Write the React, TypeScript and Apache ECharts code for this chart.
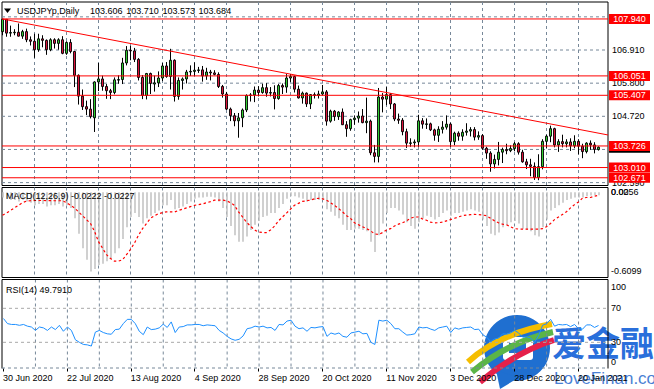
import React, { useEffect, useRef } from 'react';
import * as echarts from 'echarts';

const FF = "'Liberation Sans', Arial, sans-serif";

// ---------- data ----------
const dateLabels = ['30 Jun 2020', '22 Jul 2020', '13 Aug 2020', '4 Sep 2020', '28 Sep 2020', '20 Oct 2020', '11 Nov 2020', '3 Dec 2020', '28 Dec 2020', '20 Jan 2021'];
const labelBars = [0, 16, 32, 48, 64, 80, 96, 112, 128, 144];
const gridBars = [8, 16, 24, 32, 40, 48, 56, 64, 72, 80, 88, 96, 104, 112, 120, 128, 136, 144];

const opens = [107.52, 107.93, 107.47, 107.49, 107.50, 107.37, 107.52, 107.25, 107.20, 106.92, 107.28, 107.23, 106.92, 107.25, 107.13, 107.25, 106.80, 107.16, 106.86, 106.07,
  105.38, 105.03, 104.95, 104.66, 105.85, 105.95, 105.70, 105.56, 105.50, 105.92, 105.93, 106.48, 106.90, 106.88, 106.60, 106.00, 105.40, 106.13, 105.78, 105.82,
  105.98, 106.38, 106.03, 106.57, 105.37, 105.90, 105.95, 106.18, 106.20, 106.24, 106.25, 106.05, 106.18, 106.15, 106.10, 105.70, 105.45, 104.95, 104.73, 104.56,
  104.66, 104.92, 105.40, 105.42, 105.58, 105.50, 105.66, 105.48, 105.50, 105.30, 105.73, 105.68, 105.98, 106.03, 105.61, 105.32, 105.48, 105.12, 105.43, 105.40,
  105.45, 105.52, 104.55, 104.88, 104.70, 104.85, 104.43, 104.30, 104.60, 104.65, 104.72, 104.50, 104.55, 103.50, 103.38, 105.35, 105.28, 105.43, 105.12, 104.62,
  104.58, 104.20, 103.82, 103.83, 103.86, 104.56, 104.45, 104.46, 104.26, 104.08, 104.28, 104.35, 104.45, 103.87, 104.15, 104.05, 104.18, 104.22, 104.27, 104.02,
  104.07, 103.65, 103.49, 103.13, 103.28, 103.52, 103.61, 103.57, 103.64, 103.80, 103.52, 103.20, 103.10, 103.05, 102.68, 103.04, 103.88, 104.05, 104.30, 103.76,
  103.87, 103.80, 103.86, 103.73, 103.88, 103.72, 103.54, 103.82, 103.76, 103.606];
const highs = [107.94, 107.93, 107.72, 107.60, 107.79, 107.58, 107.62, 107.36, 107.45, 107.45, 107.40, 107.26, 107.30, 107.30, 107.30, 107.37, 107.20, 107.27, 106.88, 106.10,
  105.60, 105.23, 105.28, 105.87, 106.48, 106.06, 105.78, 105.62, 106.00, 106.07, 106.65, 107.04, 107.05, 106.98, 106.64, 106.08, 106.15, 106.16, 106.06, 106.20,
  106.48, 106.51, 106.95, 106.60, 106.00, 106.00, 106.25, 106.40, 106.50, 106.35, 106.38, 106.32, 106.25, 106.24, 106.17, 105.75, 105.52, 105.00, 104.82, 104.82,
  104.97, 105.44, 105.48, 105.70, 105.71, 105.79, 105.81, 105.68, 105.74, 105.78, 105.80, 106.11, 106.11, 106.06, 105.73, 105.53, 105.50, 105.45, 105.50, 105.56,
  105.75, 105.58, 104.93, 104.92, 104.88, 104.97, 104.55, 104.63, 104.74, 104.87, 104.95, 105.33, 104.60, 103.76, 105.65, 105.48, 105.68, 105.48, 105.15, 104.80,
  104.65, 104.30, 103.98, 103.94, 104.76, 104.65, 104.64, 104.50, 104.30, 104.38, 104.55, 104.74, 104.50, 104.20, 104.21, 104.28, 104.48, 104.35, 104.35, 104.21,
  104.12, 103.70, 103.55, 103.44, 103.86, 103.67, 103.80, 103.75, 103.86, 103.85, 103.60, 103.30, 103.30, 103.18, 103.45, 103.95, 104.10, 104.40, 104.33, 103.95,
  104.10, 103.95, 103.98, 104.08, 103.95, 103.80, 103.85, 103.91, 103.85, 103.710];
const lows = [107.40, 107.35, 107.35, 107.40, 107.36, 107.28, 107.17, 107.06, 106.65, 106.85, 107.00, 106.75, 106.87, 106.96, 106.92, 106.77, 106.75, 106.80, 105.68, 105.10,
  104.92, 104.75, 104.64, 104.19, 105.55, 105.56, 105.29, 105.28, 105.44, 105.79, 105.78, 106.40, 106.57, 106.51, 105.90, 105.28, 105.27, 105.45, 105.53, 105.68,
  105.88, 105.99, 105.60, 105.20, 105.26, 105.60, 105.80, 106.05, 106.05, 106.15, 105.86, 105.92, 105.90, 106.07, 105.65, 105.33, 104.92, 104.55, 104.38, 104.00,
  104.35, 104.85, 105.20, 105.18, 105.37, 105.46, 105.36, 105.37, 104.94, 105.26, 105.45, 105.49, 105.85, 105.50, 105.30, 105.13, 105.02, 104.95, 105.30, 105.30,
  105.40, 104.40, 104.50, 104.56, 104.59, 104.42, 104.03, 104.23, 104.43, 104.50, 104.48, 104.15, 103.42, 103.18, 103.18, 104.84, 105.08, 104.95, 104.55, 104.46,
  104.08, 103.66, 103.70, 103.68, 103.70, 104.30, 104.29, 104.22, 103.90, 103.86, 104.14, 104.27, 103.69, 103.75, 103.90, 103.90, 104.07, 104.04, 103.91, 103.93,
  103.60, 103.30, 102.87, 102.98, 103.08, 103.16, 103.45, 103.52, 103.55, 103.44, 103.17, 102.96, 102.72, 102.60, 102.59, 102.95, 103.66, 103.85, 103.68, 103.53,
  103.68, 103.68, 103.56, 103.65, 103.45, 103.32, 103.48, 103.60, 103.48, 103.573];
const closes = [107.93, 107.47, 107.49, 107.50, 107.37, 107.52, 107.25, 107.20, 106.92, 107.28, 107.23, 106.92, 107.25, 107.13, 107.25, 106.80, 107.16, 106.86, 106.07, 105.38,
  105.03, 104.95, 104.70, 105.85, 105.95, 105.70, 105.56, 105.50, 105.92, 105.93, 106.48, 106.90, 106.88, 106.60, 106.00, 105.40, 106.13, 105.80, 105.82, 105.98,
  106.38, 106.03, 106.57, 105.37, 105.90, 105.95, 106.18, 106.20, 106.24, 106.25, 106.05, 106.18, 106.15, 106.10, 105.70, 105.45, 104.95, 104.73, 104.56, 104.66,
  104.92, 105.40, 105.42, 105.58, 105.50, 105.66, 105.48, 105.50, 105.30, 105.73, 105.68, 105.98, 106.03, 105.61, 105.32, 105.48, 105.12, 105.43, 105.40, 105.45,
  105.52, 104.55, 104.88, 104.70, 104.85, 104.43, 104.30, 104.60, 104.65, 104.72, 104.50, 104.55, 103.50, 103.38, 105.35, 105.28, 105.43, 105.12, 104.62, 104.58,
  104.20, 103.82, 103.83, 103.86, 104.56, 104.45, 104.46, 104.26, 104.08, 104.28, 104.35, 104.45, 103.87, 104.15, 104.05, 104.18, 104.22, 104.27, 104.02, 104.07,
  103.65, 103.49, 103.13, 103.28, 103.52, 103.61, 103.57, 103.64, 103.80, 103.52, 103.20, 103.10, 103.05, 102.68, 103.04, 103.88, 104.05, 104.30, 103.76, 103.87,
  103.80, 103.86, 103.73, 103.88, 103.72, 103.54, 103.82, 103.76, 103.61, 103.684];

const levels = [107.940, 106.051, 105.407, 103.726, 103.010, 102.671];
const priceTicks = [108.01, 106.91, 105.81, 104.71, 103.61, 102.51];
const priceTickLabels = ['', '106.910', '105.800', '104.720', '103.610', '102.590'];
const trendline = [[0, 107.94], [151.4, 104.09]];
const bidPrice = [103.684];
const lastBar = ['103.606', '103.710', '103.573', '103.684'];

const macdMain = [-0.04, -0.05, -0.06, -0.06, -0.07, -0.06, -0.07, -0.08, -0.10, -0.09, -0.09, -0.11, -0.10, -0.10, -0.09, -0.11, -0.10, -0.12, -0.20, -0.32,
  -0.43, -0.52, -0.61, -0.59, -0.56, -0.55, -0.53, -0.51, -0.47, -0.43, -0.36, -0.27, -0.19, -0.16, -0.19, -0.24, -0.20, -0.18, -0.16, -0.14,
  -0.10, -0.10, -0.06, -0.13, -0.12, -0.11, -0.09, -0.07, -0.05, -0.04, -0.04, -0.035, -0.035, -0.04, -0.07, -0.12, -0.19, -0.26, -0.33, -0.38,
  -0.38, -0.34, -0.29, -0.25, -0.22, -0.19, -0.18, -0.16, -0.16, -0.12, -0.09, -0.05, -0.03, -0.03, -0.04, -0.05, -0.07, -0.06, -0.06, -0.06,
  -0.06, -0.13, -0.15, -0.18, -0.20, -0.25, -0.29, -0.29, -0.28, -0.28, -0.29, -0.30, -0.38, -0.46, -0.33, -0.24, -0.16, -0.12, -0.12, -0.14,
  -0.17, -0.23, -0.26, -0.28, -0.23, -0.20, -0.18, -0.19, -0.21, -0.19, -0.16, -0.14, -0.18, -0.16, -0.16, -0.15, -0.14, -0.13, -0.14, -0.15,
  -0.21, -0.26, -0.32, -0.33, -0.31, -0.27, -0.25, -0.23, -0.22, -0.24, -0.28, -0.29, -0.30, -0.33, -0.34, -0.27, -0.21, -0.14, -0.12, -0.10,
  -0.08, -0.06, -0.05, -0.04, -0.04, -0.04, -0.03, -0.025, -0.02, -0.0222];
const macdSignal = [-0.176, -0.16, -0.14, -0.12, -0.10, -0.08, -0.068, -0.065, -0.063, -0.063, -0.063, -0.064, -0.064, -0.065, -0.065, -0.065, -0.08, -0.10, -0.12, -0.15,
  -0.18, -0.21, -0.24, -0.30, -0.38, -0.43, -0.48, -0.51, -0.53, -0.53, -0.52, -0.48, -0.44, -0.39, -0.33, -0.28, -0.24, -0.20, -0.18, -0.165,
  -0.157, -0.15, -0.15, -0.152, -0.14, -0.13, -0.12, -0.11, -0.10, -0.095, -0.09, -0.08, -0.072, -0.06, -0.06, -0.06, -0.065, -0.08, -0.10, -0.15,
  -0.19, -0.23, -0.26, -0.29, -0.305, -0.31, -0.31, -0.29, -0.26, -0.22, -0.19, -0.16, -0.13, -0.10, -0.085, -0.07, -0.065, -0.06, -0.05, -0.046,
  -0.05, -0.06, -0.08, -0.10, -0.125, -0.15, -0.18, -0.20, -0.235, -0.25, -0.265, -0.28, -0.296, -0.32, -0.325, -0.31, -0.29, -0.28, -0.26, -0.245,
  -0.235, -0.22, -0.20, -0.19, -0.19, -0.205, -0.215, -0.23, -0.235, -0.234, -0.23, -0.22, -0.21, -0.20, -0.19, -0.18, -0.175, -0.172, -0.17, -0.172,
  -0.175, -0.18, -0.20, -0.22, -0.235, -0.245, -0.25, -0.265, -0.28, -0.283, -0.283, -0.283, -0.283, -0.283, -0.283, -0.28, -0.265, -0.24, -0.21, -0.19,
  -0.17, -0.15, -0.12, -0.095, -0.075, -0.045, -0.04, -0.04, -0.03, -0.0227];
const rsi = [58, 52, 51, 51, 50, 51, 49, 48, 44, 48, 47, 44, 48, 45, 50, 43, 48, 44, 33, 30,
  27.5, 27, 25.6, 42, 44, 41.5, 40, 39.5, 45, 45.5, 52, 57, 57, 52, 43, 39, 48, 45, 45.5, 47,
  51.4, 47.5, 54, 41.5, 48, 48.5, 50.5, 50.5, 51, 51, 49.5, 50.5, 50, 49.5, 44, 41, 37, 34, 32.4, 33.5,
  37.5, 46, 47, 49, 48, 49, 47, 47.5, 44, 51, 50.5, 55, 56, 49, 46, 47, 43, 47.5, 47, 48,
  48.5, 37, 41, 39.5, 41, 37, 36, 41, 42, 43, 40, 40.5, 30, 27.5, 56, 55, 56, 52, 46, 46,
  42, 38.5, 39, 40, 48, 47, 47.5, 45.5, 44, 47, 48, 49, 41.5, 47, 45.5, 47, 47.5, 48, 45, 45.5,
  39, 36, 31, 34, 35, 40, 39.5, 41, 44, 41, 36, 36.5, 35, 30, 38, 50, 52, 57, 49, 51,
  50.5, 51, 48.5, 51, 46, 45.5, 50.5, 50.5, 47.5, 49.79];
const rsiLevels = [70, 30];
const rsiAxisValues = [100, 70, 30, 0];
const rsiAxisLabels = ['100', '70', '30', '0'];
const macdAxisValues = [0.0256, 0, -0.6099];
const macdAxisLabels = ['0.0256', '0.00', '-0.6099'];

// ---------- layout ----------
const PL = 2, PR = 608;
const MAIN = [2, 185.5], MACD = [187.5, 277.5], RSI = [279.5, 368.5];
const X_MIN = -0.125, X_MAX = 151.375;
const GRID_C = '#778899';
const BULL = '#32CD32', BEAR = '#DC143C';

const txt = (text: string, x: number, y: number, fill = '#000', size = 9, align = 'left') => ({
  type: 'text', x, y,
  style: { text, fill, fontSize: size, fontFamily: FF, textAlign: align, align, textVerticalAlign: 'middle', verticalAlign: 'middle' },
});

const vGridSeries = (idx: number) => ({
  type: 'custom', xAxisIndex: idx, yAxisIndex: idx, silent: true, z: 1,
  data: gridBars.map((b) => [b]),
  renderItem: (params: any, api: any) => {
    const cs = params.coordSys;
    const x = api.coord([api.value(0), 0])[0];
    return { type: 'line', shape: { x1: x, y1: cs.y, x2: x, y2: cs.y + cs.height }, style: { stroke: GRID_C, lineWidth: 1, lineDash: [3, 3] } };
  },
});

const axisTextSeries = (idx: number, values: number[], labels: string[], padTop: number, padBottom: number) => ({
  type: 'custom', xAxisIndex: idx, yAxisIndex: idx, silent: true, z: 6,
  data: values.map((v, k) => [0, v, k]),
  renderItem: (params: any, api: any) => {
    const cs = params.coordSys;
    let y = api.coord([0, api.value(1)])[1];
    y = Math.min(Math.max(y, cs.y + padTop), cs.y + cs.height - padBottom);
    return txt(labels[api.value(2)], cs.x + cs.width + 3, y);
  },
});

export default function App() {
  const ref = useRef<HTMLDivElement>(null);
  useEffect(() => {
    if (!ref.current) return;
    const chart = echarts.init(ref.current, null, { renderer: 'svg' });
    const candleData = opens.map((o, i) => [i, o, highs[i], lows[i], closes[i]]);
    const grids = [MAIN, MACD, RSI].map(([t, b], k) => ({
      left: PL, width: PR - PL, top: t, height: b - t,
      show: k < 2, borderColor: '#000', borderWidth: 1, backgroundColor: 'transparent',
    }));
    const option: any = {
      animation: false,
      backgroundColor: '#fff',
      grid: grids,
      xAxis: [
        ...[0, 1, 2].map((g) => ({ gridIndex: g, type: 'value', min: X_MIN, max: X_MAX, show: false })),
        {
          gridIndex: 2, type: 'value', min: 0, max: 151.5, interval: 16, position: 'bottom',
          axisLine: { show: false }, splitLine: { show: false },
          axisTick: { show: true, length: 3, lineStyle: { color: '#000' }, customValues: labelBars },
          axisLabel: {
            customValues: labelBars, fontSize: 9, fontFamily: FF, color: '#000', align: 'left', margin: 5,
            formatter: (v: number) => {
              const k = Math.round(v / 16);
              return Math.abs(v - k * 16) < 1e-6 && dateLabels[k] ? dateLabels[k] : '';
            },
          },
        },
      ],
      yAxis: [
        { gridIndex: 0, type: 'value', min: 102.414, max: 108.503, show: false },
        { gridIndex: 1, type: 'value', min: -0.656, max: 0.037, show: false },
        { gridIndex: 2, type: 'value', min: -0.8, max: 103.9, show: false },
      ],
      series: [
        vGridSeries(0), vGridSeries(1), vGridSeries(2),
        {
          type: 'custom', xAxisIndex: 0, yAxisIndex: 0, silent: true, z: 1,
          data: priceTicks.map((v, k) => [0, v, k]),
          renderItem: (params: any, api: any) => {
            const cs = params.coordSys;
            const y = api.coord([0, api.value(1)])[1];
            return {
              type: 'group', children: [
                { type: 'line', shape: { x1: cs.x, y1: y, x2: cs.x + cs.width, y2: y }, style: { stroke: GRID_C, lineWidth: 1, lineDash: [3, 3] } },
                txt(priceTickLabels[api.value(2)], cs.x + cs.width + 4, y),
              ],
            };
          },
        },
        {
          type: 'custom', xAxisIndex: 0, yAxisIndex: 0, silent: true, z: 3,
          data: candleData,
          renderItem: (params: any, api: any) => {
            const i = api.value(0), o = api.value(1), h = api.value(2), l = api.value(3), c = api.value(4);
            const x = api.coord([i, o])[0];
            const yo = api.coord([i, o])[1], yc = api.coord([i, c])[1];
            const yh = api.coord([i, h])[1], yl = api.coord([i, l])[1];
            const top = Math.min(yo, yc), bot = Math.max(yo, yc);
            return {
              type: 'group', children: [
                { type: 'line', shape: { x1: x, y1: yh, x2: x, y2: yl }, style: { stroke: '#000', lineWidth: 1 } },
                { type: 'rect', shape: { x: x - 1, y: top, width: 2, height: Math.max(bot - top, 0.6) }, style: { fill: c >= o ? BULL : BEAR, stroke: '#000', lineWidth: 0.9 } },
              ],
            };
          },
        },
        {
          type: 'line', xAxisIndex: 0, yAxisIndex: 0, data: trendline, symbol: 'none', silent: true, z: 4,
          lineStyle: { color: '#FF0000', width: 1 },
        },
        {
          type: 'custom', xAxisIndex: 0, yAxisIndex: 0, silent: true, z: 5,
          data: bidPrice.map((v) => [0, v]),
          renderItem: (params: any, api: any) => {
            const cs = params.coordSys;
            const y = api.coord([0, api.value(1)])[1];
            return {
              type: 'group', children: [
                { type: 'rect', shape: { x: cs.x + cs.width + 1, y: y - 5, width: 41, height: 10.5 }, style: { fill: '#000' } },
                txt(api.value(1).toFixed(3), cs.x + cs.width + 21.5, y, '#fff', 9, 'center'),
              ],
            };
          },
        },
        {
          type: 'custom', xAxisIndex: 0, yAxisIndex: 0, silent: true, z: 6,
          data: levels.map((v) => [0, v]),
          renderItem: (params: any, api: any) => {
            const cs = params.coordSys;
            const v = api.value(1);
            const y = api.coord([0, v])[1];
            return {
              type: 'group', children: [
                { type: 'line', shape: { x1: cs.x, y1: y, x2: cs.x + cs.width, y2: y }, style: { stroke: '#FF0000', lineWidth: 1 } },
                { type: 'rect', shape: { x: cs.x + cs.width + 1, y: y - 5, width: 41, height: 10 }, style: { fill: '#FF0000' } },
                txt(v.toFixed(3), cs.x + cs.width + 21.5, y, '#fff', 9, 'center'),
              ],
            };
          },
        },
        {
          type: 'custom', xAxisIndex: 1, yAxisIndex: 1, silent: true, z: 3,
          data: macdMain.map((v, i) => [i, v]),
          renderItem: (params: any, api: any) => {
            const [x, y] = api.coord([api.value(0), api.value(1)]);
            const y0 = api.coord([api.value(0), 0])[1];
            return { type: 'rect', shape: { x: x - 0.25, y: Math.min(y, y0), width: 1.5, height: Math.abs(y - y0) }, style: { fill: '#C0C0C0' } };
          },
        },
        {
          type: 'line', xAxisIndex: 1, yAxisIndex: 1, data: macdSignal.map((v, i) => [i, v]), symbol: 'none', silent: true, z: 4,
          lineStyle: { color: '#FF0000', width: 1.2, type: [2.5, 2.5] },
        },
        axisTextSeries(1, macdAxisValues, macdAxisLabels, 4.5, 6.5),
        {
          type: 'custom', xAxisIndex: 2, yAxisIndex: 2, silent: true, z: 2,
          data: rsiLevels.map((v) => [0, v]),
          renderItem: (params: any, api: any) => {
            const cs = params.coordSys;
            const y = api.coord([0, api.value(1)])[1];
            return { type: 'line', shape: { x1: cs.x, y1: y, x2: cs.x + cs.width, y2: y }, style: { stroke: '#A9A9A9', lineWidth: 1, lineDash: [3, 3] } };
          },
        },
        {
          type: 'line', xAxisIndex: 2, yAxisIndex: 2, data: rsi.map((v, i) => [i, v]), symbol: 'none', silent: true, z: 4,
          lineStyle: { color: '#1E90FF', width: 1 },
        },
        axisTextSeries(2, rsiAxisValues, rsiAxisLabels, 7.5, 6.5),
      ],
      graphic: [
        { type: 'polygon', shape: { points: [[4, 8.5], [11, 8.5], [7.5, 13]] }, style: { fill: '#000' }, z: 50 },
        { ...txt('USDJPYp,Daily', 17, 10.5), z: 50 },
        ...lastBar.map((t, k) => ({ ...txt(t, 90 + k * 36.2, 10.5), z: 50 })),
        { ...txt('MACD(12,26,9) -0.0222 -0.0227', 6, 196), z: 50 },
        { ...txt('RSI(14) 49.7910', 6, 290), z: 50 },
        {
          type: 'polyline', z: 50, silent: true,
          shape: { points: [[PL, RSI[1]], [PL, RSI[0]], [PR, RSI[0]], [PR, RSI[1]]] },
          style: { stroke: '#000', lineWidth: 1, fill: null },
        },
        {
          type: 'line', z: 50, silent: true,
          shape: { x1: PL, y1: RSI[1] - 0.5, x2: PR, y2: RSI[1] - 0.5 },
          style: { stroke: GRID_C, lineWidth: 1, lineDash: [3, 3] },
        },
        // watermark
        {
          type: 'group', z: 100, silent: true,
          children: [
            { type: 'circle', shape: { cx: 517, cy: 348, r: 33 }, style: { fill: '#1F6FD0' } },
            { type: 'polygon', shape: { points: [[496, 370], [500, 389], [518, 378]] }, style: { fill: '#1F6FD0' } },
            { type: 'rect', shape: { x: 503, y: 337, width: 30, height: 23, r: 3 }, style: { fill: '#fff' } },
            { type: 'rect', shape: { x: 509, y: 343, width: 17, height: 10 }, style: { fill: '#1F6FD0' } },
            { type: 'bezierCurve', shape: { x1: 468, y1: 362, cpx1: 500, cpy1: 333, x2: 552, y2: 324 }, style: { stroke: '#F5BE00', lineWidth: 6, fill: null } },
            { type: 'bezierCurve', shape: { x1: 472, y1: 372, cpx1: 508, cpy1: 342, x2: 553, y2: 332 }, style: { stroke: '#5BB548', lineWidth: 6, fill: null } },
            { type: 'bezierCurve', shape: { x1: 480, y1: 382, cpx1: 516, cpy1: 352, x2: 554, y2: 340 }, style: { stroke: '#E5204A', lineWidth: 6, fill: null } },
            { type: 'text', x: 552, y: 341, style: { text: '爱金融', fill: '#2A6FDB', fontSize: 34, fontWeight: 'bold', fontFamily: "'Noto Sans CJK SC', sans-serif", textVerticalAlign: 'middle', verticalAlign: 'middle' } },
            { type: 'text', x: 554, y: 378, style: { text: 'LoveFinan.com', fill: '#4A7FD4', fontSize: 17, fontFamily: FF, textVerticalAlign: 'middle', verticalAlign: 'middle' } },
          ],
        },
      ],
    };
    chart.setOption(option);
    return () => chart.dispose();
  }, []);
  return <div ref={ref} style={{ position: 'fixed', left: 0, top: 0, width: 654, height: 389, background: '#fff' }} />;
}
